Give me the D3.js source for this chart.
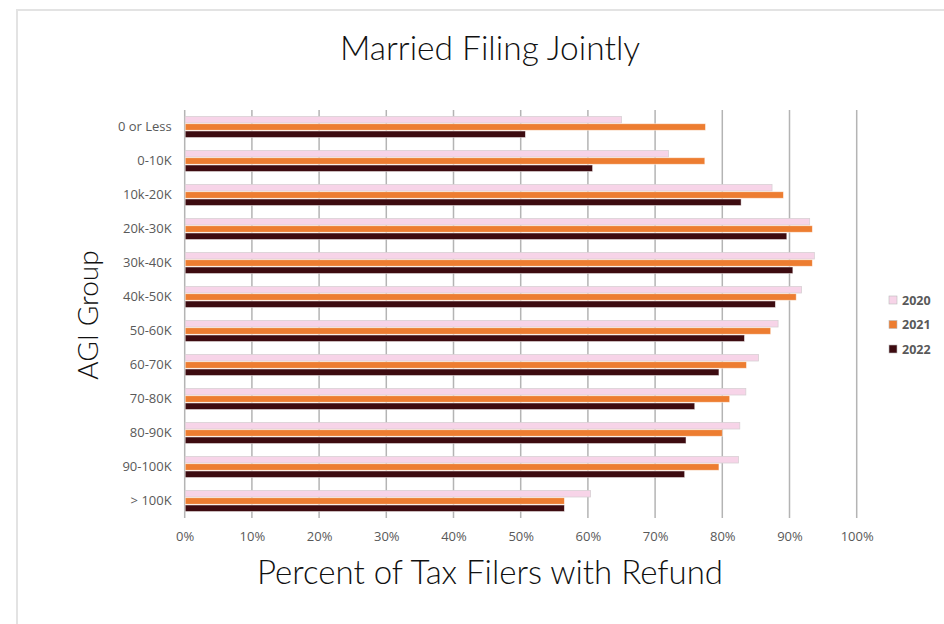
<!DOCTYPE html>
<html><head><meta charset="utf-8">
<script src="https://cdn.jsdelivr.net/npm/d3@7"></script>
<style>body{margin:0;background:#fff;overflow:hidden}svg{display:block}</style>
</head><body>
<svg id="c" width="944" height="624"></svg>
<script>
const categories = ["0 or Less","0-10K","10k-20K","20k-30K","30k-40K","40k-50K","50-60K","60-70K","70-80K","80-90K","90-100K","> 100K"];
const seriesNames = ["2020","2021","2022"];
const values2020 = [65.0,72.0,87.4,93.0,93.7,91.8,88.3,85.4,83.5,82.6,82.4,60.4];
const values2021 = [77.5,77.4,89.1,93.4,93.4,91.0,87.2,83.6,81.1,80.0,79.5,56.5];
const values2022 = [50.7,60.7,82.8,89.6,90.5,87.9,83.3,79.5,75.9,74.6,74.4,56.5];
const xTicks = [0,10,20,30,40,50,60,70,80,90,100];
const colors = ["#F7D4E8","#ED7D31","#3D0B10"];
const title = "Married Filing Jointly";
const xTitle = "Percent of Tax Filers with Refund";
const yTitle = "AGI Group";

(function(){
const series = [values2020, values2021, values2022];
const svg = d3.select("#c");
svg.append("path").attr("d","M17,624V10H944").attr("fill","none")
  .attr("stroke","#e3e3e3").attr("stroke-width",2);

const pL=184.7, pR=856.7, pT=110, pB=518;
const x = d3.scaleLinear().domain([0,100]).range([pL,pR]);
const y = d3.scaleBand().domain(categories).range([pT,pB]).paddingInner(0.38).paddingOuter(0.19);
const yInner = d3.scaleBand().domain(seriesNames).range([0,y.bandwidth()]).paddingInner(0.1);

svg.append("g").selectAll("line").data(xTicks).join("line")
  .attr("x1",d=>x(d)).attr("x2",d=>x(d)).attr("y1",pT).attr("y2",pB)
  .attr("stroke","#b4b4b4").attr("stroke-width",1.5);

const g = svg.append("g");
series.forEach((vals,si)=>{
  g.append("g").selectAll("rect").data(vals).join("rect")
    .attr("x",x(0)+0.5)
    .attr("y",(d,i)=>y(categories[i])+yInner(seriesNames[si]))
    .attr("width",d=>x(d)-x(0)-0.5)
    .attr("height",yInner.bandwidth())
    .attr("fill",colors[si])
    .attr("stroke", si===0 ? "#d8d0d4" : "rgba(255,255,255,0.6)")
    .attr("stroke-width",0.8);
});

const tickFont = "'Open Sans', sans-serif";
const yAxis = d3.axisLeft(y).tickSize(0).tickPadding(13);
const ya = svg.append("g").attr("transform",`translate(${pL},0)`).call(yAxis);
ya.select(".domain").remove();
ya.selectAll("text").attr("font-family",tickFont).attr("font-size",13).attr("fill","#595959");

const xAxis = d3.axisBottom(x).tickValues(xTicks).tickFormat(d=>d+"%").tickSize(0).tickPadding(14);
const xa = svg.append("g").attr("transform",`translate(0,${pB})`).call(xAxis);
xa.select(".domain").remove();
xa.selectAll("text").attr("font-family",tickFont).attr("font-size",13).attr("fill","#595959");

const tf = "Lato, sans-serif";
svg.append("text").attr("x",490).attr("y",60).attr("text-anchor","middle")
  .attr("font-family",tf).attr("font-weight",300).attr("font-size",33.5).attr("fill","#111").text(title);
svg.append("text").attr("x",490).attr("y",584).attr("text-anchor","middle")
  .attr("font-family",tf).attr("font-weight",300).attr("font-size",33).attr("fill","#111").text(xTitle);
svg.append("text").attr("transform","translate(98,315) rotate(-90)").attr("text-anchor","middle")
  .attr("font-family",tf).attr("font-weight",300).attr("font-size",28).attr("fill","#111").text(yTitle);

const lg = svg.append("g");
seriesNames.forEach((n,i)=>{
  const yy = 300 + i*24.5;
  lg.append("rect").attr("x",889).attr("y",yy-4).attr("width",8).attr("height",8)
    .attr("fill",colors[i]).attr("stroke","#bbb").attr("stroke-width",0.6);
  lg.append("text").attr("x",902).attr("y",yy+4.5).attr("font-family",tickFont)
    .attr("font-weight",700).attr("font-size",12.5).attr("fill","#595959").text(n);
});
})();
</script>
</body></html>
